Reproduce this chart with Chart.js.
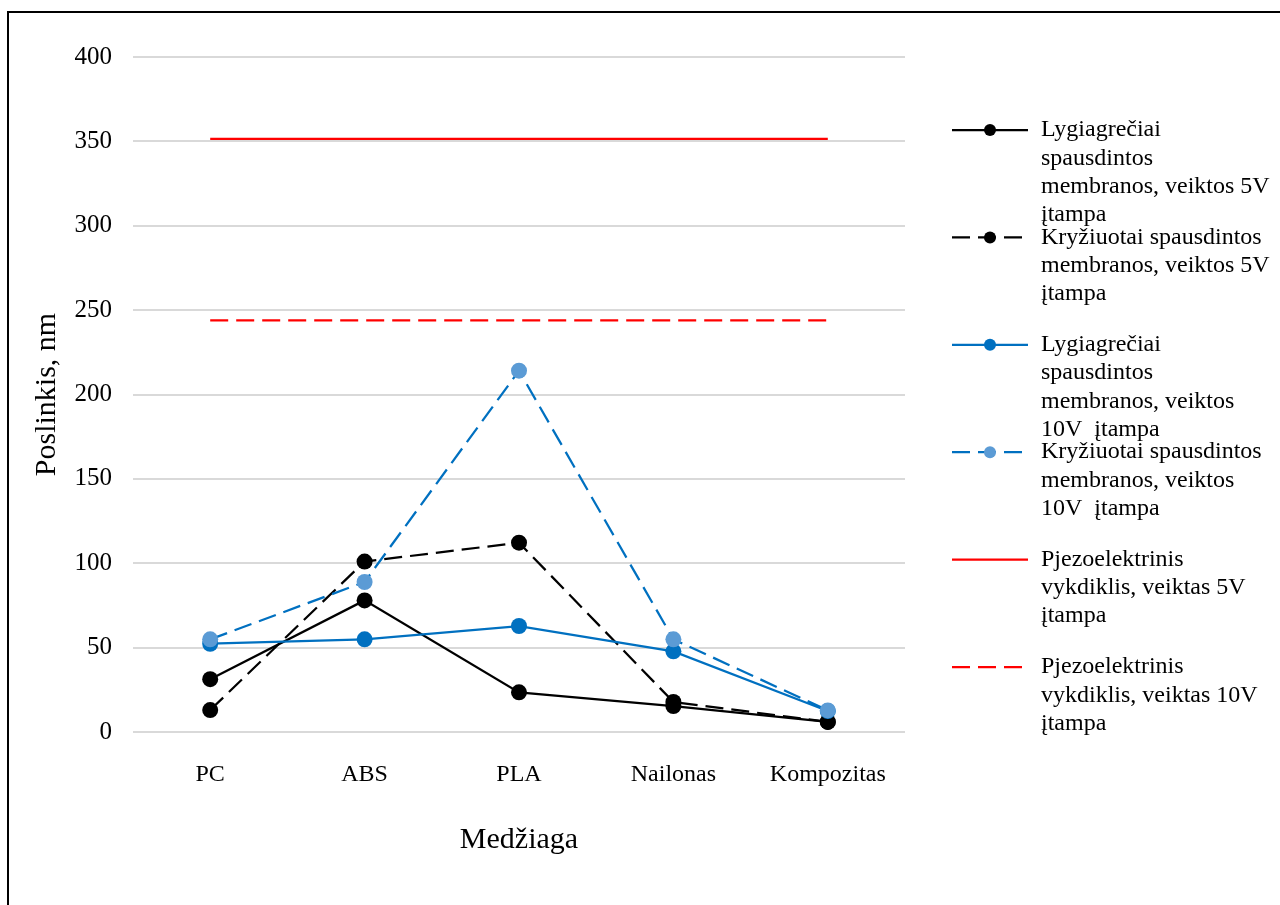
<!DOCTYPE html>
<html>
<head>
<meta charset="utf-8">
<script src="https://cdn.jsdelivr.net/npm/chart.js@4"></script>
<style>
  html, body { margin: 0; padding: 0; background: #ffffff; }
  #wrap { position: relative; width: 1280px; height: 905px; }
</style>
</head>
<body>
<div id="wrap"><canvas id="c" width="1280" height="905"></canvas></div>
<script>
// Materials on the horizontal axis
const categories = ['PC', 'ABS', 'PLA', 'Nailonas', 'Kompozitas'];

// Displacement, nm
const parallel5V  = [31.3, 78.0, 23.5, 15.4, 6.0];
const cross5V     = [13.0, 101.0, 112.2, 17.8, 6.0];
const parallel10V = [52.3, 54.9, 62.8, 47.8, 12.4];
const cross10V    = [54.9, 88.9, 214.1, 54.9, 12.8];
const piezo5V     = [351.5, 351.5, 351.5, 351.5, 351.5];
const piezo10V    = [244.0, 244.0, 244.0, 244.0, 244.0];

// Vertical axis ticks
const yTicks = [0, 50, 100, 150, 200, 250, 300, 350, 400];

// Legend texts, one array of lines per series
const legendParallel5V  = ['Lygiagrečiai', 'spausdintos', 'membranos, veiktos 5V', 'įtampa'];
const legendCross5V     = ['Kryžiuotai spausdintos', 'membranos, veiktos 5V', 'įtampa'];
const legendParallel10V = ['Lygiagrečiai', 'spausdintos', 'membranos, veiktos', '10V  įtampa'];
const legendCross10V    = ['Kryžiuotai spausdintos', 'membranos, veiktos', '10V  įtampa'];
const legendPiezo5V     = ['Pjezoelektrinis', 'vykdiklis, veiktas 5V', 'įtampa'];
const legendPiezo10V    = ['Pjezoelektrinis', 'vykdiklis, veiktas 10V', 'įtampa'];

const SERIF = "'Liberation Serif', 'Times New Roman', serif";
const DASH = [18, 8];

function series(lines, data, color, pointColor, dash, radius, idx) {
  return {
    label: lines.join(' '),
    legendLines: lines,
    data: data,
    borderColor: color,
    backgroundColor: pointColor,
    pointBackgroundColor: pointColor,
    pointBorderColor: pointColor,
    pointBorderWidth: 0,
    pointRadius: radius,
    pointHoverRadius: radius,
    borderWidth: 2.25,
    borderDash: dash,
    tension: 0,
    fill: false,
    order: 10 - idx
  };
}

const datasets = [
  series(legendParallel5V,  parallel5V,  '#000000', '#000000', [], 8, 0),
  series(legendCross5V,     cross5V,     '#000000', '#000000', DASH, 8, 1),
  series(legendParallel10V, parallel10V, '#0070C0', '#0070C0', [], 8, 2),
  series(legendCross10V,    cross10V,    '#0070C0', '#5B9BD5', DASH, 8, 3),
  series(legendPiezo5V,     piezo5V,     '#FF0000', '#FF0000', [], 0, 4),
  series(legendPiezo10V,    piezo10V,    '#FF0000', '#FF0000', DASH, 0, 5)
];

// Outer frame of the figure
const framePlugin = {
  id: 'frame',
  beforeDraw(chart) {
    const ctx = chart.ctx;
    ctx.save();
    ctx.fillStyle = '#ffffff';
    ctx.fillRect(0, 0, chart.width, chart.height);
    ctx.strokeStyle = '#000000';
    ctx.lineWidth = 2;
    ctx.beginPath();
    ctx.moveTo(8, chart.height + 5);
    ctx.lineTo(8, 12);
    ctx.lineTo(chart.width + 5, 12);
    ctx.stroke();
    ctx.restore();
  }
};

// Legend at the right with wrapped multi-line entries
const sideLegend = {
  id: 'sideLegend',
  afterDraw(chart) {
    const ctx = chart.ctx;
    const x0 = 952, x1 = 1028, xm = 990, tx = 1041;
    const startY = 130, step = 107.4, lineH = 28.3;
    ctx.save();
    chart.data.datasets.forEach((ds, i) => {
      const y = startY + i * step;
      ctx.strokeStyle = ds.borderColor;
      ctx.lineWidth = ds.borderWidth;
      ctx.setLineDash(ds.borderDash || []);
      ctx.beginPath();
      ctx.moveTo(x0, y);
      ctx.lineTo(x1, y);
      ctx.stroke();
      ctx.setLineDash([]);
      if (ds.pointRadius > 0) {
        ctx.fillStyle = ds.pointBackgroundColor;
        ctx.beginPath();
        ctx.arc(xm, y, 6, 0, Math.PI * 2);
        ctx.fill();
      }
      ctx.fillStyle = '#000000';
      ctx.font = '24px ' + SERIF;
      ctx.textAlign = 'left';
      ctx.textBaseline = 'middle';
      ds.legendLines.forEach((t, k) => ctx.fillText(t, tx, y + k * lineH));
    });
    ctx.restore();
  }
};

new Chart(document.getElementById('c'), {
  type: 'line',
  data: { labels: categories, datasets: datasets },
  options: {
    responsive: false,
    animation: false,
    devicePixelRatio: 1,
    layout: { padding: { left: 0, top: 57, right: 375, bottom: 0 } },
    plugins: {
      legend: { display: false },
      tooltip: { enabled: false }
    },
    scales: {
      x: {
        offset: true,
        grid: { display: false },
        border: { display: false },
        ticks: { color: '#000000', font: { family: SERIF, size: 24 }, padding: 20 },
        title: {
          display: true,
          text: 'Medžiaga',
          color: '#000000',
          font: { family: SERIF, size: 30 },
          padding: { top: 0, bottom: 47 }
        },
        afterFit(scale) { scale.height = 173; }
      },
      y: {
        min: 0,
        max: 400,
        afterBuildTicks(scale) { scale.ticks = yTicks.map(v => ({ value: v })); },
        grid: { color: '#d9d9d9', lineWidth: 2, drawTicks: false },
        border: { display: false },
        ticks: { color: '#000000', font: { family: SERIF, size: 25 }, padding: 21 },
        title: {
          display: true,
          text: 'Poslinkis, nm',
          color: '#000000',
          font: { family: SERIF, size: 30 },
          padding: { top: 29, bottom: 0 }
        },
        afterFit(scale) { scale.width = 133; }
      }
    }
  },
  plugins: [framePlugin, sideLegend]
});
</script>
</body>
</html>
